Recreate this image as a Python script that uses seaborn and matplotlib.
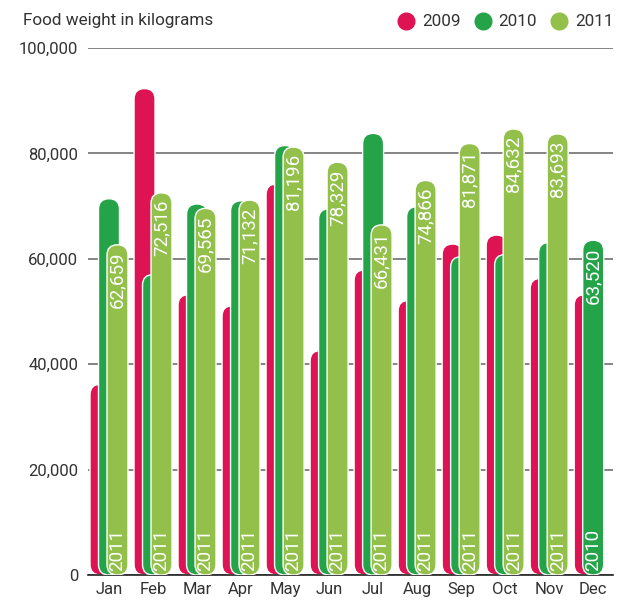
import numpy as np
import pandas as pd
import seaborn as sns
import matplotlib.pyplot as plt
from matplotlib.patches import FancyBboxPatch
from matplotlib.lines import Line2D
from matplotlib.ticker import FuncFormatter

months = ["Jan", "Feb", "Mar", "Apr", "May", "Jun", "Jul", "Aug", "Sep", "Oct", "Nov", "Dec"]
years = ["2009", "2010", "2011"]
kg_2009 = [36200, 92300, 53200, 51100, 74200, 42600, 57900, 52100, 62800, 64500, 56300, 53200]
kg_2010 = [71400, 57000, 70400, 71000, 81500, 69500, 83800, 69900, 60400, 60800, 63100, 63520]
kg_2011 = [62659, 72516, 69565, 71132, 81196, 78329, 66431, 74866, 81871, 84632, 83693, None]
colors = ["#de1354", "#24a348", "#92c04b"]

rows = []
for yr, vals in zip(years, [kg_2009, kg_2010, kg_2011]):
    for m, v in zip(months, vals):
        if v is not None:
            rows.append({"month": m, "year": yr, "kg": v})
df = pd.DataFrame(rows)

sns.set_style("white")
plt.rcParams["font.family"] = ["Roboto", "DejaVu Sans"]
text_col = "#333333"

W, H = 639, 601
fig = plt.figure(figsize=(W / 100, H / 100), dpi=100)
ax = fig.add_axes([88 / W, (H - 575) / H, (613 - 88) / W, (575 - 48) / H])

step = 0.193
sns.barplot(data=df, x="month", y="kg", hue="year", order=months, hue_order=years,
            palette=colors, width=3 * step, dodge=True, ax=ax, legend=False)

x0, x1 = -0.477, 11.45
ax.set_xlim(x0, x1)
ax.set_ylim(0, 100000)

# rounded bars: replace seaborn rectangles with round-capped boxes
px_x = (613 - 88) / (x1 - x0)
px_y = (575 - 48) / 100000
aspect = px_x / px_y
bw = 0.477
top_bar = {}
for k, (yr, cont) in enumerate(zip(years, ax.containers)):
    for bar in cont:
        h = bar.get_height()
        bar.set_visible(False)
        if h is None or np.isnan(h) or h == 0:
            continue
        cx = bar.get_x() + bar.get_width() / 2
        patch = FancyBboxPatch((cx - bw / 2, 0), bw, h,
                               boxstyle=f"round,pad=0,rounding_size={bw / 2}",
                               mutation_aspect=aspect, fc=colors[k], ec="white",
                               lw=1.0, zorder=2 + k)
        ax.add_patch(patch)
        mi = int(round(cx))
        top_bar[mi] = (cx, h, yr)

narrow = ["Liberation Sans Narrow", "Roboto", "DejaVu Sans"]
for mi, (cx, h, yr) in top_bar.items():
    ax.text(cx, h - 7 / px_y, f"{int(h):,}", rotation=90, ha="center", va="top",
            color="white", fontsize=13.5, family=narrow, zorder=10)
    ax.text(cx, 4 / px_y, yr, rotation=90, ha="center", va="bottom",
            color="white", fontsize=13.5, family=narrow, zorder=10)

ax.yaxis.grid(True, color="#6f6f6f", lw=1.2)
ax.set_axisbelow(True)
ax.set_yticks([0, 20000, 40000, 60000, 80000, 100000])
ax.yaxis.set_major_formatter(FuncFormatter(lambda v, p: f"{int(v):,}"))
for s in ["left", "right", "top"]:
    ax.spines[s].set_visible(False)
ax.spines["bottom"].set_color("#222222")
ax.spines["bottom"].set_linewidth(1.2)
ax.tick_params(axis="both", length=0, labelsize=12, colors=text_col)
ax.tick_params(axis="y", pad=7)
ax.tick_params(axis="x", pad=5)
ax.set_xlabel("")
ax.set_ylabel("")

fig.text(23 / W, 1 - 21 / H, "Food weight in kilograms", va="center", ha="left",
         fontsize=12.3, color=text_col)

handles = [Line2D([], [], marker="o", ls="", ms=12, color=c) for c in colors]
fig.legend(handles, years, ncol=3, frameon=False, loc="center right",
           bbox_to_anchor=(621 / W, 1 - 22 / H), fontsize=12.3, handletextpad=0.35,
           handlelength=1.2, columnspacing=0.7, labelcolor=text_col,
           borderpad=0.2, borderaxespad=0.2)

fig.savefig("out.png", dpi=100)
